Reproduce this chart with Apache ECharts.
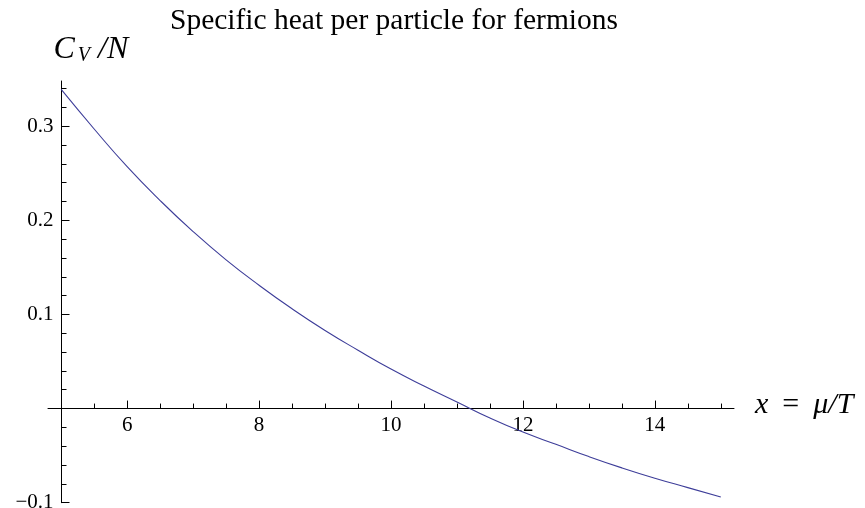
<!DOCTYPE html>
<html>
<head>
<meta charset="utf-8">
<script src="https://cdn.jsdelivr.net/npm/echarts@6/dist/echarts.min.js"></script>
<style>
  html, body { margin: 0; padding: 0; background: #fff; }
  #chart { width: 865px; height: 508px; }
</style>
</head>
<body>
<div id="chart"></div>
<script>
// curve, x = mu/T
var xs = [5, 5.5, 6, 6.5, 7, 7.5, 8, 8.5, 9, 9.5, 10, 10.5, 11, 11.5, 12, 12.5, 13, 13.5, 14, 14.5, 15];
var ys = [0.339, 0.297, 0.257, 0.221, 0.188, 0.158, 0.131, 0.106, 0.083, 0.062, 0.042, 0.024, 0.007, -0.010, -0.025, -0.038, -0.051, -0.063, -0.074, -0.084, -0.094];

// ticks
var xMajor = [6, 8, 10, 12, 14];
var xMinor = [5.5, 6.5, 7, 7.5, 8.5, 9, 9.5, 10.5, 11, 11.5, 12.5, 13, 13.5, 14.5, 15];
var yMajor = [-0.1, 0.1, 0.2, 0.3];
var yMinor = [-0.08, -0.06, -0.04, -0.02, 0.02, 0.04, 0.06, 0.08, 0.12, 0.14, 0.16, 0.18,
              0.22, 0.24, 0.26, 0.28, 0.32, 0.34];

var serif = 'Liberation Serif';
var chart = echarts.init(document.getElementById('chart'));

var points = xs.map(function (x, i) { return [x, ys[i]]; });

// grid box; the x axis is lifted up to y = 0 with an offset
var gTop = 81, gBottom = 5.3, yMin = -0.1, yMax = 0.348;
var gH = 508 - gTop - gBottom;
var xOff = -gH * (0 - yMin) / (yMax - yMin);

var baseX = {
  type: 'value', min: 4.8, max: 15.2, position: 'bottom', offset: xOff,
  splitLine: { show: false },
  axisLine: { onZero: false, lineStyle: { color: '#000', width: 1 } }
};
var baseY = {
  type: 'value', min: yMin, max: yMax, position: 'left', offset: -13.5,
  splitLine: { show: false },
  axisLine: { show: true, onZero: false, lineStyle: { color: '#000', width: 1 } }
};

var option = {
  animation: false,
  backgroundColor: '#fff',
  title: {
    text: 'Specific heat per particle for fermions',
    left: 165, top: 1,
    textStyle: { fontFamily: serif, fontSize: 29.5, fontWeight: 'normal', color: '#000' }
  },
  grid: { left: 48, right: 131, top: gTop, bottom: gBottom, outerBoundsMode: 'none' },
  xAxis: [
    Object.assign({}, baseX, {
      axisTick: { inside: true, length: 8, customValues: xMajor, lineStyle: { color: '#000' } },
      axisLabel: { customValues: xMajor, margin: 6, fontFamily: serif, fontSize: 21, color: '#000' },
      name: '{i|x}{n|=}{i|\u03bc/T}',
      nameLocation: 'end', nameGap: 21,
      nameTextStyle: {
        verticalAlign: 'middle', padding: [0, 0, 6, 0],
        rich: {
          i: { fontFamily: serif, fontStyle: 'italic', fontSize: 30, color: '#000' },
          n: { fontFamily: serif, fontSize: 30, color: '#000', padding: [0, 14, 0, 14] }
        }
      }
    }),
    Object.assign({}, baseX, {
      axisLine: { show: false, onZero: false },
      axisTick: { inside: true, length: 5, customValues: xMinor, lineStyle: { color: '#000' } },
      axisLabel: { show: false }
    })
  ],
  yAxis: [
    Object.assign({}, baseY, {
      axisTick: { inside: true, length: 8, customValues: yMajor, lineStyle: { color: '#000' } },
      axisLabel: {
        customValues: yMajor, margin: 8, fontFamily: serif, fontSize: 21, color: '#000',
        formatter: function (v) { return String(v).replace('-', '\u2212'); }
      },
      name: '{i|C}{s|V}{i|/N}',
      nameLocation: 'end', nameGap: 14,
      nameTextStyle: {
        align: 'left', padding: [0, 0, 0, -8],
        rich: {
          i: { fontFamily: serif, fontStyle: 'italic', fontSize: 32, color: '#000', lineHeight: 34 },
          s: { fontFamily: serif, fontStyle: 'italic', fontSize: 20, color: '#000', padding: [12, 8, 0, 3] }
        }
      }
    }),
    Object.assign({}, baseY, {
      axisLine: { show: false },
      axisTick: { inside: true, length: 5, customValues: yMinor, lineStyle: { color: '#000' } },
      axisLabel: { show: false }
    })
  ],
  series: [{
    type: 'line',
    data: points,
    smooth: true,
    symbol: 'none',
    lineStyle: { color: '#3d3d99', width: 1.1 }
  }]
};

chart.setOption(option);
</script>
</body>
</html>
